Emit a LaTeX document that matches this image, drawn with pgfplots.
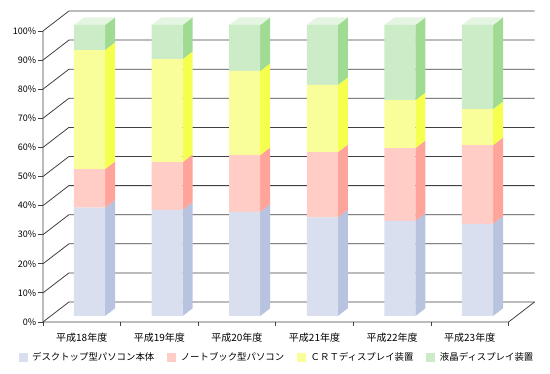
\documentclass[border=0pt]{standalone}
\usepackage{fontspec}
\setmainfont{Noto Sans CJK JP}
\usepackage{pgfplots}
\pgfplotsset{compat=1.18}
\usepackage{pgfplotstable}

\definecolor{blueF}{HTML}{D9DFEF}
\definecolor{blueS}{HTML}{B8C3E0}
\definecolor{pinkF}{HTML}{FFCCC6}
\definecolor{pinkS}{HTML}{FFA49A}
\definecolor{yellF}{HTML}{F9FD9A}
\definecolor{yellS}{HTML}{F4FF4E}
\definecolor{greenF}{HTML}{CCEBC7}
\definecolor{greenS}{HTML}{A0DB93}
\definecolor{greenT}{HTML}{E4F5E1}
\definecolor{gridc}{HTML}{404040}

% segment shares (%) per fiscal year
\pgfplotstableread{
x desktop note crt lcd
0 37.2 13.3 40.9 8.6
1 36.5 16.4 35.4 11.7
2 35.8 19.5 28.9 15.8
3 33.9 22.4 23.1 20.6
4 32.7 25.0 16.5 25.8
5 31.7 27.0 12.4 28.9
}\datatable

\pgfplotsset{common/.style={x=77.6pt, y=2.91pt, xmin=-0.6, xmax=5.74,
  ymin=-2.06, ymax=104.81, clip=false}}
\tikzset{gl/.style={gridc, line width=0.8pt}}

\begin{document}
\begin{tikzpicture}
\begin{axis}[common,
  axis line style={draw=none},
  ytick={-2.06,7.94,17.94,27.94,37.94,47.94,57.94,67.94,77.94,87.94,97.94},
  yticklabels={0\%,10\%,20\%,30\%,40\%,50\%,60\%,70\%,80\%,90\%,100\%},
  ytick pos=left, tick align=outside, major tick length=5pt,
  ytick style={gridc, line width=0.8pt},
  yticklabel style={font=\fontsize{9}{10}\selectfont, inner sep=1.5pt},
  xtick={-0.1,0.9,1.9,2.9,3.9,4.9},
  xticklabels={平成18年度,平成19年度,平成20年度,平成21年度,平成22年度,平成23年度},
  xtick pos=bottom,
  xtick style={draw=none},
  xticklabel style={font=\fontsize{10}{11}\selectfont, yshift=-3pt},
]
% walls and floor
\draw[gl] (axis cs:-0.6,-2.06) -- (axis cs:-0.265,4.81) -- (axis cs:5.735,4.81);
\draw[gl] (axis cs:-0.6,7.94) -- (axis cs:-0.265,14.81) -- (axis cs:5.735,14.81);
\draw[gl] (axis cs:-0.6,17.94) -- (axis cs:-0.265,24.81) -- (axis cs:5.735,24.81);
\draw[gl] (axis cs:-0.6,27.94) -- (axis cs:-0.265,34.81) -- (axis cs:5.735,34.81);
\draw[gl] (axis cs:-0.6,37.94) -- (axis cs:-0.265,44.81) -- (axis cs:5.735,44.81);
\draw[gl] (axis cs:-0.6,47.94) -- (axis cs:-0.265,54.81) -- (axis cs:5.735,54.81);
\draw[gl] (axis cs:-0.6,57.94) -- (axis cs:-0.265,64.81) -- (axis cs:5.735,64.81);
\draw[gl] (axis cs:-0.6,67.94) -- (axis cs:-0.265,74.81) -- (axis cs:5.735,74.81);
\draw[gl] (axis cs:-0.6,77.94) -- (axis cs:-0.265,84.81) -- (axis cs:5.735,84.81);
\draw[gl] (axis cs:-0.6,87.94) -- (axis cs:-0.265,94.81) -- (axis cs:5.735,94.81);
\draw[gl] (axis cs:-0.6,97.94) -- (axis cs:-0.265,104.81) -- (axis cs:5.735,104.81);
\draw[gl] (axis cs:-0.6,97.94) -- (axis cs:-0.6,-2.06) -- (axis cs:5.4,-2.06) -- (axis cs:5.735,4.81);
\draw[gl] (axis cs:-0.6,-2.06) -- (axis cs:-0.6,-3.6);
\draw[gl] (axis cs:0.4,-2.06) -- (axis cs:0.4,-3.6);
\draw[gl] (axis cs:1.4,-2.06) -- (axis cs:1.4,-3.6);
\draw[gl] (axis cs:2.4,-2.06) -- (axis cs:2.4,-3.6);
\draw[gl] (axis cs:3.4,-2.06) -- (axis cs:3.4,-3.6);
\draw[gl] (axis cs:4.4,-2.06) -- (axis cs:4.4,-3.6);
\draw[gl] (axis cs:5.4,-2.06) -- (axis cs:5.4,-3.6);
% side faces of the stacked bars
\addplot[fill=blueS,draw=none] coordinates {(0.2,0) (0.329,2.64) (0.329,39.84) (0.2,37.2)};
\addplot[fill=pinkS,draw=none] coordinates {(0.2,37.2) (0.329,39.84) (0.329,53.14) (0.2,50.5)};
\addplot[fill=yellS,draw=none] coordinates {(0.2,50.5) (0.329,53.14) (0.329,94.04) (0.2,91.4)};
\addplot[fill=greenS,draw=none] coordinates {(0.2,91.4) (0.329,94.04) (0.329,102.64) (0.2,100)};
\addplot[fill=greenT,draw=none] coordinates {(-0.2,100) (0.2,100) (0.329,102.64) (-0.071,102.64)};

\addplot[fill=blueS,draw=none] coordinates {(1.2,0) (1.329,2.64) (1.329,39.14) (1.2,36.5)};
\addplot[fill=pinkS,draw=none] coordinates {(1.2,36.5) (1.329,39.14) (1.329,55.54) (1.2,52.9)};
\addplot[fill=yellS,draw=none] coordinates {(1.2,52.9) (1.329,55.54) (1.329,90.94) (1.2,88.3)};
\addplot[fill=greenS,draw=none] coordinates {(1.2,88.3) (1.329,90.94) (1.329,102.64) (1.2,100)};
\addplot[fill=greenT,draw=none] coordinates {(0.8,100) (1.2,100) (1.329,102.64) (0.929,102.64)};

\addplot[fill=blueS,draw=none] coordinates {(2.2,0) (2.329,2.64) (2.329,38.44) (2.2,35.8)};
\addplot[fill=pinkS,draw=none] coordinates {(2.2,35.8) (2.329,38.44) (2.329,57.94) (2.2,55.3)};
\addplot[fill=yellS,draw=none] coordinates {(2.2,55.3) (2.329,57.94) (2.329,86.84) (2.2,84.2)};
\addplot[fill=greenS,draw=none] coordinates {(2.2,84.2) (2.329,86.84) (2.329,102.64) (2.2,100)};
\addplot[fill=greenT,draw=none] coordinates {(1.8,100) (2.2,100) (2.329,102.64) (1.929,102.64)};

\addplot[fill=blueS,draw=none] coordinates {(3.2,0) (3.329,2.64) (3.329,36.54) (3.2,33.9)};
\addplot[fill=pinkS,draw=none] coordinates {(3.2,33.9) (3.329,36.54) (3.329,58.94) (3.2,56.3)};
\addplot[fill=yellS,draw=none] coordinates {(3.2,56.3) (3.329,58.94) (3.329,82.04) (3.2,79.4)};
\addplot[fill=greenS,draw=none] coordinates {(3.2,79.4) (3.329,82.04) (3.329,102.64) (3.2,100)};
\addplot[fill=greenT,draw=none] coordinates {(2.8,100) (3.2,100) (3.329,102.64) (2.929,102.64)};

\addplot[fill=blueS,draw=none] coordinates {(4.2,0) (4.329,2.64) (4.329,35.34) (4.2,32.7)};
\addplot[fill=pinkS,draw=none] coordinates {(4.2,32.7) (4.329,35.34) (4.329,60.34) (4.2,57.7)};
\addplot[fill=yellS,draw=none] coordinates {(4.2,57.7) (4.329,60.34) (4.329,76.84) (4.2,74.2)};
\addplot[fill=greenS,draw=none] coordinates {(4.2,74.2) (4.329,76.84) (4.329,102.64) (4.2,100)};
\addplot[fill=greenT,draw=none] coordinates {(3.8,100) (4.2,100) (4.329,102.64) (3.929,102.64)};

\addplot[fill=blueS,draw=none] coordinates {(5.2,0) (5.329,2.64) (5.329,34.34) (5.2,31.7)};
\addplot[fill=pinkS,draw=none] coordinates {(5.2,31.7) (5.329,34.34) (5.329,61.34) (5.2,58.7)};
\addplot[fill=yellS,draw=none] coordinates {(5.2,58.7) (5.329,61.34) (5.329,73.74) (5.2,71.1)};
\addplot[fill=greenS,draw=none] coordinates {(5.2,71.1) (5.329,73.74) (5.329,102.64) (5.2,100)};
\addplot[fill=greenT,draw=none] coordinates {(4.8,100) (5.2,100) (5.329,102.64) (4.929,102.64)};

\coordinate (BL) at (axis cs:-1.1534,-19.93);
\coordinate (TR) at (axis cs:5.9343,108.59);
\end{axis}

\begin{axis}[common, hide axis,
  ybar stacked, bar width=0.4,
  legend columns=4,
  legend style={draw=none, fill=none, at={(0.4757,-0.1126)}, anchor=center,
    font=\fontsize{9.4}{11}\selectfont, column sep=2.5pt,
    /tikz/every even column/.append style={column sep=11pt}},
  legend image code/.code={\fill[#1] (0pt,-4.5pt) rectangle (9pt,4.5pt);},
]
\addplot[fill=blueF, draw=none] table[x=x, y=desktop] {\datatable};
\addplot[fill=pinkF, draw=none] table[x=x, y=note] {\datatable};
\addplot[fill=yellF, draw=none] table[x=x, y=crt] {\datatable};
\addplot[fill=greenF, draw=none] table[x=x, y=lcd] {\datatable};
\legend{デスクトップ型パソコン本体, ノートブック型パソコン, ＣＲＴディスプレイ装置, 液晶ディスプレイ装置}
\end{axis}
\pgfresetboundingbox
\useasboundingbox (BL) rectangle (TR);
\end{tikzpicture}
\end{document}
